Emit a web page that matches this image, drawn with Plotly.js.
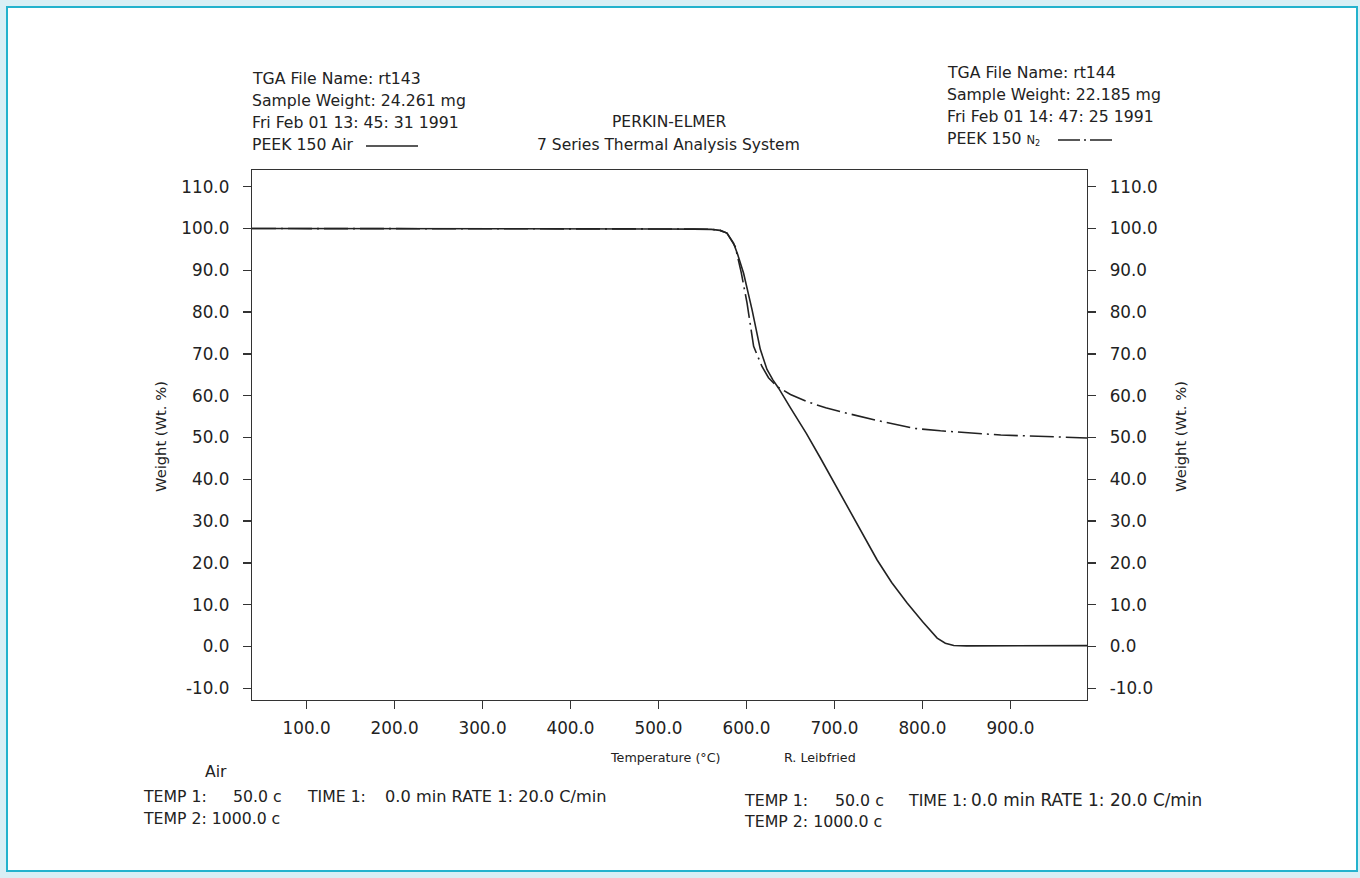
<!DOCTYPE html>
<html>
<head>
<meta charset="utf-8">
<script src="https://cdn.plot.ly/plotly-3.0.1.min.js"></script>
<style>
  html, body { margin:0; padding:0; width:1360px; height:878px; overflow:hidden; background:#d9eff5; }
  #frame { position:absolute; left:6px; top:6px; width:1348px; height:862px; border:2px solid #24b2cd; background:#ffffff; }
  #chart { position:absolute; left:0; top:0; width:1360px; height:878px; }
</style>
</head>
<body>
<div id="frame"></div>
<div id="chart"></div>
<script>
// ---- data ----
const airTemp = [38, 100, 200, 300, 400, 500, 540, 560, 570, 577.8, 585.3, 590, 596.7, 606.3, 615.7, 623.3, 630, 636.5, 650, 668, 684, 700, 720, 748.5, 765, 782.6, 800, 816.7, 826, 835.6, 850, 900, 987];
const airWeight = [100.0, 100.0, 100.05, 100.0, 99.95, 99.9, 99.85, 99.8, 99.55, 98.9, 96.5, 93.8, 89.3, 80.6, 71.1, 66.3, 63.8, 61.8, 57.1, 51.0, 45.1, 39.0, 31.5, 20.7, 15.3, 10.4, 6.0, 2.0, 0.8, 0.25, 0.15, 0.15, 0.2];
const n2Temp = [38, 100, 200, 300, 400, 500, 540, 560, 570, 577.8, 587.2, 594, 600.6, 608.1, 617.6, 625, 634.7, 650, 668.8, 690, 714.3, 750, 790.1, 820.5, 889, 940, 987];
const n2Weight = [100.0, 100.0, 100.05, 100.0, 99.95, 99.9, 99.85, 99.8, 99.55, 98.9, 95.7, 89.5, 82.2, 71.8, 67.0, 64.3, 62.2, 60.3, 58.6, 57.1, 55.8, 54.0, 52.2, 51.6, 50.6, 50.3, 49.9];
const xTicks = [100, 200, 300, 400, 500, 600, 700, 800, 900];
const xTickLabels = ["100.0", "200.0", "300.0", "400.0", "500.0", "600.0", "700.0", "800.0", "900.0"];
const yTicks = [-10, 0, 10, 20, 30, 40, 50, 60, 70, 80, 90, 100, 110];
const yTickLabels = ["-10.0", "0.0", "10.0", "20.0", "30.0", "40.0", "50.0", "60.0", "70.0", "80.0", "90.0", "100.0", "110.0"];
const leftInfo = ["TGA File Name: rt143", "Sample Weight: 24.261 mg", "Fri Feb 01 13: 45: 31 1991", "PEEK 150 Air"];
const rightInfo = ["TGA File Name: rt144", "Sample Weight: 22.185 mg", "Fri Feb 01 14: 47: 25 1991", "PEEK 150 <span style='font-size:11.5px'>N<sub>2</sub></span>"];
const titleLines = ["PERKIN-ELMER", "7 Series Thermal Analysis System"];

// ---- layout geometry ----
const W = 1360, H = 878;
const mL = 252, mR = 273, mT = 170, mB = 178;
const pw = W - mL - mR, ph = H - mT - mB;
const px = x => (x - mL) / pw;           // pixel -> paper x
const py = y => (H - mB - y) / ph;       // pixel -> paper y

const FONT = "DejaVu Sans, Liberation Sans, Arial, sans-serif";
const TXT = "#222222";

function ann(text, x, y, size, xanchor, extra) {
  return Object.assign({
    text: text, xref: "paper", yref: "paper", x: px(x), y: py(y),
    xanchor: xanchor || "left", yanchor: "middle", showarrow: false,
    font: {family: FONT, size: size, color: TXT}
  }, extra || {});
}

const annotations = [];
const leftY = [78, 100.5, 122.5, 144];
leftInfo.forEach((t, i) => annotations.push(ann(t, 250, leftY[i], 15.7)));
const rightY = [72.5, 95, 117, 138.5];
rightInfo.forEach((t, i) => annotations.push(ann(t, 945, rightY[i], 15.7)));
annotations.push(ann(titleLines[0], 669, 122, 15.5, "center"));
annotations.push(ann(titleLines[1], 668, 145, 15.5, "center"));
annotations.push(ann("Weight (Wt. %)", 160, 437, 14.7, "center", {textangle: -90}));
annotations.push(ann("Weight (Wt. %)", 1180, 437, 14.7, "center", {textangle: -90}));
annotations.push(ann("Temperature (°C)", 665, 757, 12.7, "center"));
annotations.push(ann("R. Leibfried", 820, 757, 12.7, "center"));
annotations.push(ann("Air", 216, 771, 15.7, "center"));
// left conditions
annotations.push(ann("TEMP 1:", 141, 796, 15.7));
annotations.push(ann("50.0 c", 231, 796, 15.7));
annotations.push(ann("TIME 1:", 305, 796, 15.7));
annotations.push(ann("0.0 min RATE 1: 20.0 C/min", 383, 796, 16.2));
annotations.push(ann("TEMP 2: 1000.0 c", 141, 818, 15.7));
// right conditions
annotations.push(ann("TEMP 1:", 742, 800, 15.8));
annotations.push(ann("50.0 c", 833, 800, 15.8));
annotations.push(ann("TIME 1:", 906, 800, 15.8));
annotations.push(ann("0.0 min RATE 1: 20.0 C/min", 969, 800, 16.9));
annotations.push(ann("TEMP 2: 1000.0 c", 742, 821, 15.8));

const shapes = [
  {type: "line", xref: "paper", yref: "paper", x0: px(366), x1: px(418), y0: py(146), y1: py(146),
   line: {color: TXT, width: 1.3}},
  {type: "line", xref: "paper", yref: "paper", x0: px(1058), x1: px(1112), y0: py(140), y1: py(140),
   line: {color: TXT, width: 1.3, dash: "22px,4px,2px,4px"}}
];

const traces = [
  {x: n2Temp, y: n2Weight, type: "scatter", mode: "lines", name: "PEEK 150 N2",
   line: {color: "#222", width: 1.6, dash: "24px,5px,2px,5px"}, hoverinfo: "x+y"},
  {x: airTemp, y: airWeight, type: "scatter", mode: "lines", name: "PEEK 150 Air",
   line: {color: "#222", width: 1.6}, hoverinfo: "x+y"},
  {x: [airTemp[0]], y: [airWeight[0]], yaxis: "y2", type: "scatter", mode: "none", showlegend: false, hoverinfo: "skip"}
];

const axisCommon = {
  showgrid: false, zeroline: false, showline: true, linecolor: "#333", linewidth: 1.3,
  ticks: "outside", ticklen: 8, tickwidth: 1.3, tickcolor: "#333",
  tickfont: {family: FONT, size: 16.8, color: TXT}
};

const layout = {
  width: W, height: H,
  margin: {l: mL, r: mR, t: mT, b: mB, pad: 0},
  paper_bgcolor: "rgba(0,0,0,0)", plot_bgcolor: "#ffffff",
  showlegend: false,
  xaxis: Object.assign({}, axisCommon, {range: [38, 987], tickmode: "array", tickvals: xTicks,
    ticktext: xTickLabels, mirror: true, ticklabelstandoff: 5}),
  yaxis: Object.assign({}, axisCommon, {range: [-12.8, 114], tickmode: "array", tickvals: yTicks,
    ticktext: yTickLabels, ticklabelstandoff: 10}),
  yaxis2: Object.assign({}, axisCommon, {range: [-12.8, 114], tickmode: "array", tickvals: yTicks,
    ticktext: yTickLabels, overlaying: "y", side: "right", matches: "y", ticklabelstandoff: 10}),
  annotations: annotations,
  shapes: shapes
};

Plotly.newPlot("chart", traces, layout, {displayModeBar: false, staticPlot: true});
</script>
</body>
</html>
